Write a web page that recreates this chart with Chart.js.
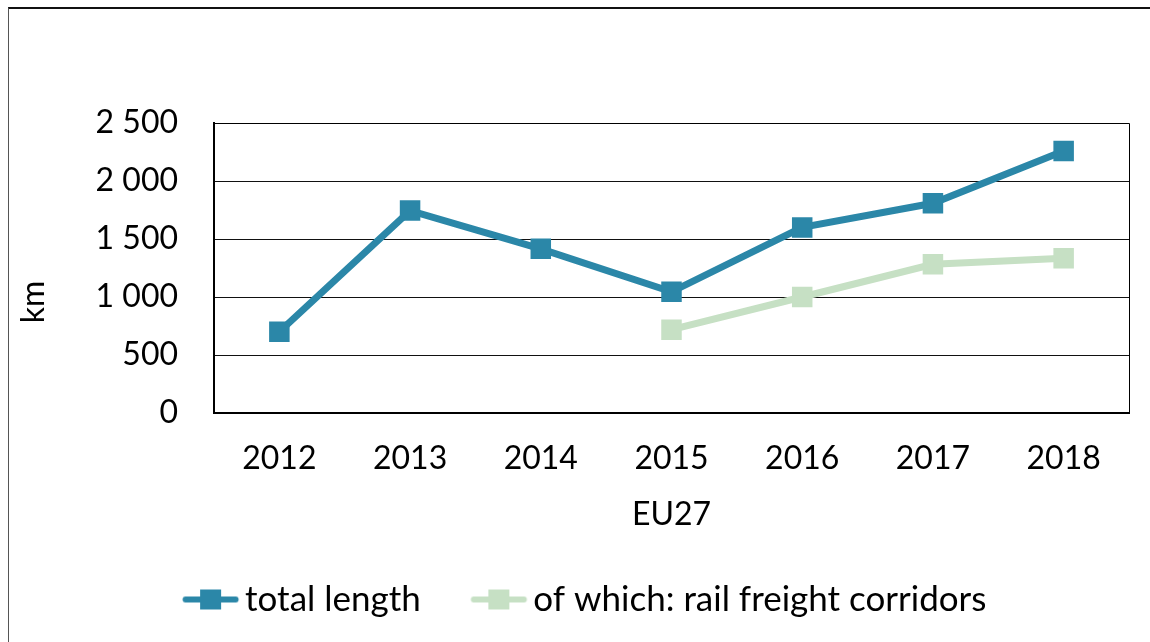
<!DOCTYPE html>
<html><head><meta charset="utf-8">
<script src="https://cdn.jsdelivr.net/npm/chart.js@4.4.1/dist/chart.umd.min.js"></script>
<style>
html,body{margin:0;padding:0;background:#fff;}
#wrap{position:relative;width:1150px;height:642px;overflow:hidden;background:#fff;}
#frame{position:absolute;left:8px;top:7px;width:1200px;height:700px;border-top:2px solid #111;border-left:1px solid #555;}
canvas{position:absolute;left:0;top:0;}
</style></head><body>
<div id="wrap"><div id="frame"></div><canvas id="c" width="1150" height="642"></canvas></div>
<script>
const categories = ['2012','2013','2014','2015','2016','2017','2018'];
const totalLength = [700, 1745, 1415, 1045, 1600, 1808, 2258];
const railFreightCorridors = [null, null, null, 718, 1000, 1282, 1335];
const yTicks = [0, 500, 1000, 1500, 2000, 2500];
const seriesNames = ['total length', 'of which: rail freight corridors'];
const seriesColors = ['#2B87A8', '#C6E0C4'];
const xTitle = 'EU27';
const yTitle = 'km';

const FONT = 'Lato, "DejaVu Sans", sans-serif';
function fmt(v){ return String(v).replace(/\B(?=(\d{3})+(?!\d))/g, ' '); }
function makeIcon(color){
  const c = document.createElement('canvas'); c.width = 112; c.height = 24;
  const g = c.getContext('2d');
  g.strokeStyle = color; g.lineWidth = 6; g.lineCap = 'round';
  g.beginPath(); g.moveTo(56.5, 12); g.lineTo(106.5, 12); g.stroke();
  g.fillStyle = color; g.fillRect(71, 2, 21, 20);
  return c;
}
const icons = seriesColors.map(makeIcon);

const plotFrame = {
  id: 'plotFrame',
  beforeDatasetsDraw(chart){
    const {ctx, chartArea: a} = chart;
    ctx.save();
    ctx.strokeStyle = '#000'; ctx.lineWidth = 1;
    ctx.beginPath();
    ctx.moveTo(a.left, Math.round(a.top)+0.5); ctx.lineTo(Math.round(a.right)+0.5, Math.round(a.top)+0.5);
    ctx.lineTo(Math.round(a.right)+0.5, a.bottom);
    ctx.stroke();
    ctx.restore();
  },
  afterDraw(chart){
    const ctx = chart.ctx;
    ctx.save();
    ctx.translate(34, 302);
    ctx.rotate(-Math.PI / 2);
    ctx.fillStyle = '#000';
    ctx.font = '32px ' + FONT;
    ctx.textAlign = 'center';
    ctx.textBaseline = 'middle';
    ctx.fillText(yTitle, 0, 0);
    ctx.restore();
  }
};

new Chart(document.getElementById('c'), {
  type: 'line',
  data: {
    labels: categories,
    datasets: [
      { label: seriesNames[0], data: totalLength, borderColor: seriesColors[0], backgroundColor: seriesColors[0],
        borderWidth: 7, pointStyle: 'rect', pointRadius: 14.5, pointHoverRadius: 14.5, pointBorderWidth: 0, tension: 0 },
      { label: seriesNames[1], data: railFreightCorridors, borderColor: seriesColors[1], backgroundColor: seriesColors[1],
        borderWidth: 7, pointStyle: 'rect', pointRadius: 14.5, pointHoverRadius: 14.5, pointBorderWidth: 0, tension: 0 }
    ]
  },
  options: {
    responsive: false, animation: false, devicePixelRatio: 1,
    layout: { padding: { left: 0, right: 21, top: 123, bottom: 15 } },
    scales: {
      x: {
        offset: true,
        grid: { display: false, drawTicks: false },
        border: { display: true, color: '#000', width: 2 },
        ticks: { color: '#000', font: { family: FONT, size: 32 }, padding: 26, maxRotation: 0 },
        title: { display: true, text: xTitle, color: '#000', font: { family: FONT, size: 32 }, padding: { top: 0, bottom: 38 } },
        afterFit(s){ s.height = 159; }
      },
      y: {
        min: yTicks[0], max: yTicks[yTicks.length-1],
        afterBuildTicks(s){ s.ticks = yTicks.map(v => ({ value: v })); },
        grid: { color: '#111', lineWidth: 1, drawTicks: false },
        border: { display: true, color: '#000', width: 2 },
        ticks: { color: '#000', font: { family: FONT, size: 32 }, padding: 36, callback: v => fmt(v) },
        title: { display: false, text: yTitle },
        afterFit(s){ s.width = 214; }
      }
    },
    plugins: {
      tooltip: { enabled: false },
      legend: {
        position: 'bottom',
        labels: {
          usePointStyle: true, pointStyleWidth: 85, padding: 10, color: '#000',
          font: { family: FONT, size: 35 },
          generateLabels(chart){
            const items = Chart.defaults.plugins.legend.labels.generateLabels(chart);
            items.forEach((it, i) => { it.pointStyle = icons[i]; });
            return items;
          }
        }
      }
    }
  },
  plugins: [plotFrame]
});
</script>
</body></html>
